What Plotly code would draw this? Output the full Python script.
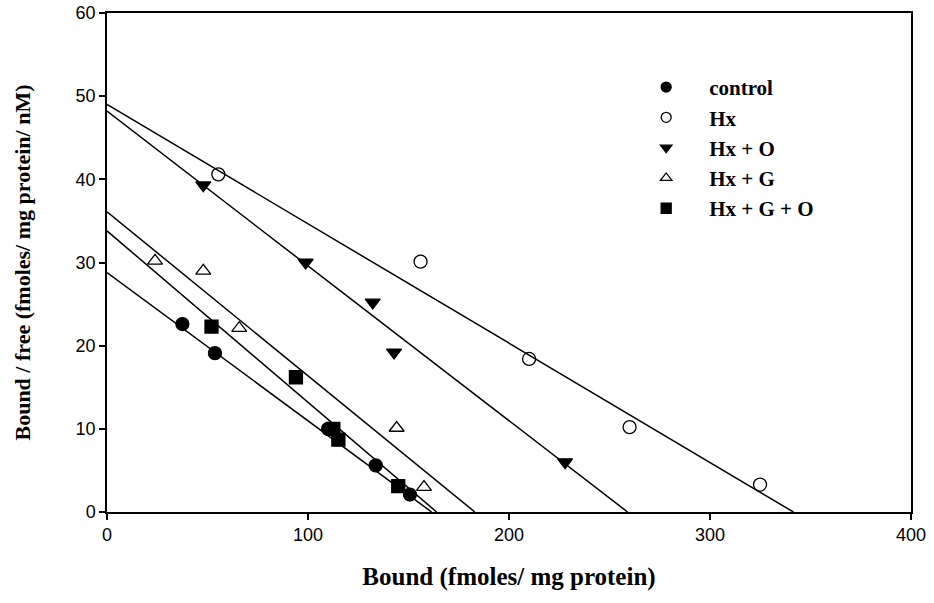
import plotly.graph_objects as go

# Scatchard data: bound (fmoles/mg protein) vs bound/free (fmoles/mg protein/nM)
control_x = [37.5, 53.7, 110.0, 133.7, 150.7]
control_y = [22.6, 19.1, 10.0, 5.6, 2.1]

hx_x = [55.4, 156.0, 210.0, 260.0, 324.9]
hx_y = [40.6, 30.1, 18.4, 10.2, 3.3]

hx_o_x = [47.9, 98.8, 132.2, 142.8, 227.9]
hx_o_y = [39.3, 30.0, 25.2, 19.2, 6.0]

hx_g_x = [23.9, 47.9, 65.8, 144.1, 157.7]
hx_g_y = [30.2, 29.0, 22.1, 10.1, 3.0]

hx_g_o_x = [52.0, 94.0, 112.6, 115.1, 144.9]
hx_g_o_y = [22.3, 16.2, 10.0, 8.7, 3.1]

# Regression lines: y-intercept (Bmax/Kd) and x-intercept (Bmax)
line_y0 = {"control": 28.8, "Hx": 49.0, "Hx + O": 48.2, "Hx + G": 36.1, "Hx + G + O": 33.8}
line_x0 = {"control": 161.5, "Hx": 341.5, "Hx + O": 259.0, "Hx + G": 183.0, "Hx + G + O": 164.0}

series = [
    ("control", control_x, control_y, "circle"),
    ("Hx", hx_x, hx_y, "circle-open"),
    ("Hx + O", hx_o_x, hx_o_y, "triangle-down"),
    ("Hx + G", hx_g_x, hx_g_y, "triangle-up-open"),
    ("Hx + G + O", hx_g_o_x, hx_g_o_y, "square"),
]

fig = go.Figure()

for name, xs, ys, sym in series:
    fig.add_trace(go.Scatter(
        x=[0, line_x0[name]], y=[line_y0[name], 0], mode="lines",
        line=dict(color="black", width=1.5), showlegend=False, hoverinfo="skip"))

for name, xs, ys, sym in series:
    fig.add_trace(go.Scatter(
        x=xs, y=ys, mode="markers", name=name, showlegend=False,
        marker=dict(symbol=sym, size=13, color="black",
                    line=dict(color="black", width=1.3))))
    # legend entry with a smaller marker
    fig.add_trace(go.Scatter(
        x=[None], y=[None], mode="markers", name=f"<b>{name}</b>",
        marker=dict(symbol=sym, size=10, color="black",
                    line=dict(color="black", width=1.3))))

axis_common = dict(
    showline=True, linecolor="black", linewidth=1.5, mirror=True,
    ticks="outside", ticklen=6, tickwidth=1.5, tickcolor="black",
    showgrid=False, zeroline=False, automargin=False,
    tickfont=dict(family="Liberation Sans, Arial", size=18, color="black"),
)

fig.update_xaxes(range=[0, 400], tickvals=[0, 100, 200, 300, 400], **axis_common,
                 title=dict(text="<b>Bound (fmoles/ mg protein)</b>", standoff=23,
                            font=dict(family="Liberation Serif, Times New Roman", size=25, color="black")))
fig.update_yaxes(range=[0, 60], tickvals=[0, 10, 20, 30, 40, 50, 60], **axis_common,
                 title=dict(text="<b>Bound / free (fmoles/ mg protein/ nM)</b>", standoff=39,
                            font=dict(family="Liberation Serif, Times New Roman", size=22, color="black")))

fig.update_layout(
    width=934, height=603,
    margin=dict(l=107, r=23, t=13, b=91),
    plot_bgcolor="white", paper_bgcolor="white",
    legend=dict(x=0.642, y=0.892, xanchor="left", yanchor="top",
                itemwidth=76, bgcolor="rgba(0,0,0,0)", tracegroupgap=0,
                font=dict(family="Liberation Serif, Times New Roman", size=21, color="black")),
)

fig.write_html("out.html")
